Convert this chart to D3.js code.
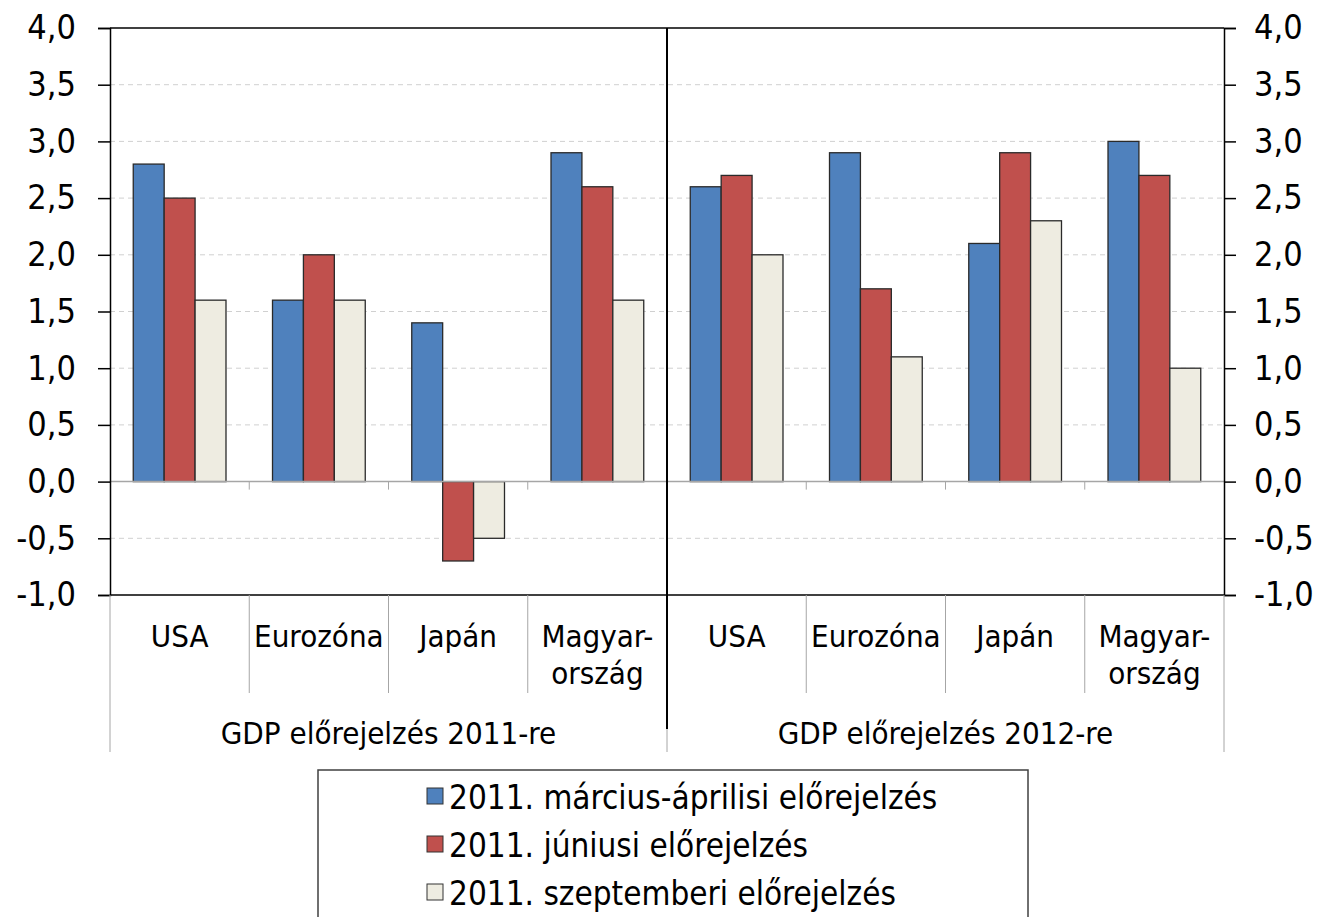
<!DOCTYPE html>
<html>
<head>
<meta charset="utf-8">
<script src="https://cdn.jsdelivr.net/npm/d3@7"></script>
<style>
  body { margin: 0; background: #fff; }
  text { font-family: "DejaVu Sans Condensed", "DejaVu Sans", sans-serif; fill: #000; }
</style>
</head>
<body>
<div id="chart"></div>
<script>
var years = ["2011", "2012"];
var yearLabels = ["GDP előrejelzés 2011-re", "GDP előrejelzés 2012-re"];
var countries = ["USA", "Eurozóna", "Japán", "Magyarország"];
var countryLabels = [["USA"], ["Eurozóna"], ["Japán"], ["Magyar-", "ország"]];
var seriesNames = ["2011. március-áprilisi előrejelzés", "2011. júniusi előrejelzés", "2011. szeptemberi előrejelzés"];
var seriesColors = ["#4f81bd", "#c0504d", "#eeece1"];
// values per series, in order 2011 USA..Magyarország, then 2012 USA..Magyarország
var marchApril = [2.8, 1.6, 1.4, 2.9, 2.6, 2.9, 2.1, 3.0];
var june = [2.5, 2.0, -0.7, 2.6, 2.7, 1.7, 2.9, 2.7];
var september = [1.6, 1.6, -0.5, 1.6, 2.0, 1.1, 2.3, 1.0];
var yTicks = [-1.0, -0.5, 0.0, 0.5, 1.0, 1.5, 2.0, 2.5, 3.0, 3.5, 4.0];

var W = 1325, H = 917;
var margin = {top: 28, right: 101, bottom: 322, left: 110};
var width = W - margin.left - margin.right,
    height = H - margin.top - margin.bottom;

var svg = d3.select("#chart").append("svg")
    .attr("width", W)
    .attr("height", H);
var g = svg.append("g")
    .attr("transform", "translate(" + margin.left + "," + margin.top + ")");

var slots = [];
years.forEach(function(y) {
    countries.forEach(function(c) { slots.push(y + "|" + c); });
});
var allSeries = [marchApril, june, september];

var x0 = d3.scaleBand().domain(slots).range([0, width]);
var step = x0.bandwidth();
var x1 = d3.scaleBand().domain(seriesNames).range([step * 0.167, step * 0.833]);
var y = d3.scaleLinear().domain([-1, 4]).range([height, 0]);

var loc = d3.formatLocale({decimal: ",", thousands: " ", grouping: [3], currency: ["", ""], minus: "-"});
var fmt = loc.format(".1f");

// gridlines
g.selectAll(".grid")
    .data(yTicks.filter(function(d) { return d !== 4 && d !== -1 && d !== 0; }))
    .enter().append("line")
    .attr("x1", 0).attr("x2", width)
    .attr("y1", function(d) { return y(d); })
    .attr("y2", function(d) { return y(d); })
    .attr("stroke", "#d0d0d0")
    .attr("stroke-dasharray", "5,4");

// bars
var rows = [];
slots.forEach(function(s, i) {
    seriesNames.forEach(function(n, j) {
        rows.push({slot: s, series: n, value: allSeries[j][i], color: seriesColors[j]});
    });
});
g.selectAll(".bar")
    .data(rows)
    .enter().append("rect")
    .attr("x", function(d) { return x0(d.slot) + x1(d.series); })
    .attr("width", x1.bandwidth())
    .attr("y", function(d) { return y(Math.max(0, d.value)); })
    .attr("height", function(d) { return Math.abs(y(d.value) - y(0)); })
    .attr("fill", function(d) { return d.color; })
    .attr("stroke", "#2a2a2a")
    .attr("stroke-width", 1.3);

// zero line with small category ticks
g.append("line")
    .attr("x1", 0).attr("x2", width)
    .attr("y1", y(0)).attr("y2", y(0))
    .attr("stroke", "#a6a6a6").attr("stroke-width", 1.5);
g.selectAll(".ztick")
    .data(slots.slice(1))
    .enter().append("line")
    .attr("x1", function(d) { return x0(d); })
    .attr("x2", function(d) { return x0(d); })
    .attr("y1", y(0)).attr("y2", y(0) + 8)
    .attr("stroke", "#a6a6a6");

// axes
var leftAxis = d3.axisLeft(y).tickValues(yTicks).tickFormat(fmt).tickSize(12).tickPadding(22);
var rightAxis = d3.axisRight(y).tickValues(yTicks).tickFormat(fmt).tickSize(12).tickPadding(18);
var la = g.append("g").call(leftAxis);
var ra = g.append("g").attr("transform", "translate(" + width + ",0)").call(rightAxis);
[la, ra].forEach(function(a) {
    a.select(".domain").attr("stroke", "#000").attr("stroke-width", 1.5);
    a.selectAll(".tick line").attr("stroke", "#000").attr("stroke-width", 1.5);
    a.selectAll("text").style("font-size", "34px").attr("font-family", null);
});

// top and bottom frame
g.append("line").attr("x1", 0).attr("x2", width).attr("y1", 0).attr("y2", 0)
    .attr("stroke", "#000").attr("stroke-width", 1.5);
g.append("line").attr("x1", 0).attr("x2", width).attr("y1", height).attr("y2", height)
    .attr("stroke", "#000").attr("stroke-width", 1.5);

// category separators below axis
var catSep = 98, grpSep = 157;
slots.forEach(function(s, i) {
    if (i % 4 !== 0) {
        g.append("line")
            .attr("x1", x0(s)).attr("x2", x0(s))
            .attr("y1", height).attr("y2", height + catSep)
            .attr("stroke", "#a6a6a6");
    }
});
[0, width].forEach(function(xx) {
    g.append("line").attr("x1", xx).attr("x2", xx)
        .attr("y1", height).attr("y2", height + grpSep)
        .attr("stroke", "#a6a6a6");
});
var mid = x0(years[1] + "|" + countries[0]);
g.append("line").attr("x1", mid).attr("x2", mid)
    .attr("y1", height).attr("y2", height + grpSep)
    .attr("stroke", "#a6a6a6");
g.append("line").attr("x1", mid).attr("x2", mid)
    .attr("y1", 0).attr("y2", height + 134)
    .attr("stroke", "#000").attr("stroke-width", 2);

// category labels
slots.forEach(function(s, i) {
    var lines = countryLabels[i % 4];
    var t = g.append("text")
        .attr("x", x0(s) + step / 2)
        .attr("y", height + 52)
        .attr("text-anchor", "middle")
        .style("font-size", "31px");
    lines.forEach(function(l, k) {
        t.append("tspan")
            .attr("x", x0(s) + step / 2)
            .attr("dy", k === 0 ? 0 : 37)
            .text(l);
    });
});

// group labels
years.forEach(function(yr, i) {
    var a = x0(yr + "|" + countries[0]);
    g.append("text")
        .attr("x", a + step * 2)
        .attr("y", height + 149)
        .attr("text-anchor", "middle")
        .style("font-size", "31px")
        .text(yearLabels[i]);
});

// legend
var legend = svg.append("g").attr("transform", "translate(318,770)");
legend.append("rect")
    .attr("width", 710).attr("height", 160)
    .attr("fill", "#fff").attr("stroke", "#404040").attr("stroke-width", 1.5);
seriesNames.forEach(function(n, i) {
    var row = legend.append("g").attr("transform", "translate(109," + (27 + i * 48) + ")");
    row.append("rect")
        .attr("x", 0).attr("y", -9)
        .attr("width", 16).attr("height", 16)
        .attr("fill", seriesColors[i]).attr("stroke", "#333");
    row.append("text")
        .attr("x", 22).attr("y", 0)
        .attr("dy", "0.35em")
        .style("font-size", "33px")
        .text(n);
});
</script>
</body>
</html>
